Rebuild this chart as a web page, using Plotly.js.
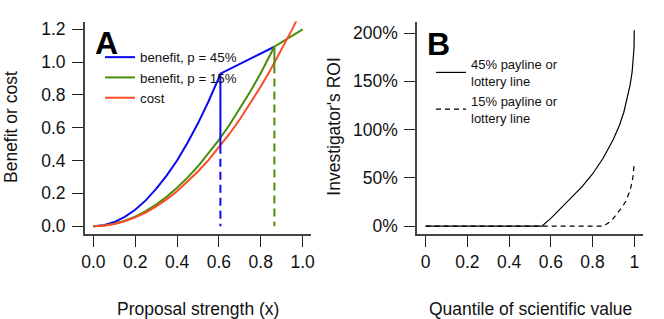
<!DOCTYPE html>
<html>
<head>
<meta charset="utf-8">
<script src="https://cdn.plot.ly/plotly-3.0.1.min.js"></script>
<style>html,body{margin:0;padding:0;background:#fff;}#chart{width:664px;height:319px;}</style>
</head>
<body>
<div id="chart"></div>
<script>
// ---------- Panel A data ----------
var xBlue = [0, 0.05, 0.10, 0.15, 0.20, 0.25, 0.30, 0.35, 0.40, 0.45, 0.50, 0.55, 0.60, 0.607, 0.865];
var yBlue = [0, 0.006, 0.025, 0.057, 0.100, 0.157, 0.227, 0.308, 0.400, 0.508, 0.627, 0.760, 0.905, 0.930, 1.094];
var xGreen = [0, 0.05, 0.10, 0.15, 0.20, 0.25, 0.30, 0.35, 0.40, 0.45, 0.50, 0.55, 0.60, 0.65, 0.70, 0.75, 0.80, 0.865, 1.0];
var yGreen = [0, 0.004, 0.015, 0.033, 0.058, 0.091, 0.131, 0.179, 0.234, 0.296, 0.365, 0.442, 0.526, 0.617, 0.715, 0.821, 0.934, 1.094, 1.20];
var xCost = [0, 0.05, 0.10, 0.15, 0.20, 0.25, 0.30, 0.35, 0.40, 0.45, 0.50, 0.55, 0.60, 0.65, 0.70, 0.75, 0.80, 0.85, 0.90, 0.95, 1.00];
var yCost = [0, 0.003, 0.013, 0.030, 0.053, 0.083, 0.120, 0.163, 0.213, 0.270, 0.333, 0.403, 0.480, 0.562, 0.652, 0.748, 0.851, 0.961, 1.077, 1.200, 1.330];
var blueCutX = 0.607, blueTop = 0.930, blueCostLevel = 0.49;
var greenCutX = 0.865, greenTop = 1.094, greenCostLevel = 0.98;
var labelsA = ["benefit, p = 45%", "benefit, p = 15%", "cost"];
var ticksAx = [0, 0.2, 0.4, 0.6, 0.8, 1.0];
var ticksAy = [0, 0.2, 0.4, 0.6, 0.8, 1.0, 1.2];

// ---------- Panel B data ----------
var q45 = [0, 0.557, 0.60, 0.65, 0.70, 0.75, 0.80, 0.85, 0.90, 0.93, 0.95, 0.97, 0.98, 0.99, 0.995, 0.999, 1.0];
var roi45 = [0, 0, 8, 19, 30, 41, 54, 70, 90, 105, 118, 136, 146, 160, 170, 185, 203];
var q15 = [0, 0.853, 0.88, 0.90, 0.92, 0.94, 0.96, 0.97, 0.98, 0.99, 0.995, 1.0];
var roi15 = [0, 0, 4, 8, 14, 19, 26, 31, 37, 46, 53, 66];
var labelsB = ["45% payline or<br>lottery line", "15% payline or<br>lottery line"];
var ticksBx = [0, 0.2, 0.4, 0.6, 0.8, 1];
var ticksBy = [0, 50, 100, 150, 200];
var tickTextBy = ["0%", "50%", "100%", "150%", "200%"];

var BLUE = "#0a0af0", GREEN = "#4a8c0a", RED = "#ff4a28";
var FONT = "Liberation Sans, Arial, Helvetica, sans-serif";

var traces = [
  {x: xBlue, y: yBlue, mode: "lines", line: {color: BLUE, width: 2}, name: labelsA[0], xaxis: "x", yaxis: "y", legend: "legend"},
  {x: xGreen, y: yGreen, mode: "lines", line: {color: GREEN, width: 2}, name: labelsA[1], xaxis: "x", yaxis: "y", legend: "legend"},
  {x: xCost, y: yCost, mode: "lines", line: {color: RED, width: 2}, name: labelsA[2], xaxis: "x", yaxis: "y", legend: "legend"},
  {x: [blueCutX, blueCutX], y: [blueTop, blueCostLevel], mode: "lines", line: {color: BLUE, width: 2}, showlegend: false, xaxis: "x", yaxis: "y"},
  {x: [blueCutX, blueCutX], y: [blueCostLevel, 0], mode: "lines", line: {color: BLUE, width: 2, dash: "8px,5px"}, showlegend: false, xaxis: "x", yaxis: "y"},
  {x: [greenCutX, greenCutX], y: [greenTop, greenCostLevel], mode: "lines", line: {color: GREEN, width: 2}, showlegend: false, xaxis: "x", yaxis: "y"},
  {x: [greenCutX, greenCutX], y: [greenCostLevel, 0], mode: "lines", line: {color: GREEN, width: 2, dash: "8px,5px"}, showlegend: false, xaxis: "x", yaxis: "y"},
  {x: q45, y: roi45, mode: "lines", line: {color: "#000", width: 1.2}, name: labelsB[0], xaxis: "x2", yaxis: "y2", legend: "legend2"},
  {x: q15, y: roi15, mode: "lines", line: {color: "#000", width: 1.2, dash: "5px,4px"}, name: labelsB[1], xaxis: "x2", yaxis: "y2", legend: "legend2"}
];

function axis(extra) {
  var base = {
    showgrid: false, zeroline: false, showline: true, linecolor: "#444", linewidth: 2,
    ticks: "outside", ticklen: 11, tickwidth: 1, tickcolor: "#222",
    tickfont: {family: FONT, size: 17.5, color: "#111"}, tickmode: "array", fixedrange: true
  };
  for (var k in extra) base[k] = extra[k];
  return base;
}

var W = 664, H = 319;
function px(v) { return v / W; }
function py(v) { return 1 - v / H; }

var layout = {
  width: W, height: H, margin: {l: 0, r: 0, t: 0, b: 0},
  paper_bgcolor: "#fff", plot_bgcolor: "#fff",
  font: {family: FONT, color: "#111"},
  xaxis: axis({domain: [px(85), px(311)], range: [-0.04, 1.04], tickvals: ticksAx, tickformat: ".1f", anchor: "y", ticklabelstandoff: 3.5}),
  yaxis: axis({domain: [py(234), py(21.5)], range: [-0.048, 1.248], tickvals: ticksAy, tickformat: ".1f", anchor: "x", ticklabelstandoff: 3}),
  xaxis2: axis({domain: [px(417.3), px(642.6)], range: [-0.04, 1.04], tickvals: ticksBx, anchor: "y2", ticklabelstandoff: 3.5}),
  yaxis2: axis({domain: [py(234), py(21.5)], range: [-8.16, 212], tickvals: ticksBy, ticktext: tickTextBy, anchor: "x2", ticklabelstandoff: 3}),
  showlegend: true,
  legend: {x: px(100), y: py(42), xanchor: "left", yanchor: "top", bgcolor: "rgba(0,0,0,0)",
           font: {family: FONT, size: 13.3, color: "#111"}, tracegroupgap: 0},
  legend2: {x: px(431), y: py(49), xanchor: "left", yanchor: "top", bgcolor: "rgba(0,0,0,0)",
            font: {family: FONT, size: 13, color: "#111"}, tracegroupgap: 0},
  annotations: [
    {text: "<b>A</b>", xref: "paper", yref: "paper", x: px(106.5), y: py(43), xanchor: "center", yanchor: "middle", showarrow: false, font: {family: FONT, size: 32, color: "#000"}},
    {text: "<b>B</b>", xref: "paper", yref: "paper", x: px(438.5), y: py(43.5), xanchor: "center", yanchor: "middle", showarrow: false, font: {family: FONT, size: 32, color: "#000"}},
    {text: "Proposal strength (x)", xref: "paper", yref: "paper", x: px(198), y: py(309), xanchor: "center", yanchor: "middle", showarrow: false, font: {family: FONT, size: 17.5, color: "#111"}},
    {text: "Benefit or cost", xref: "paper", yref: "paper", x: px(11.5), y: py(127.5), xanchor: "center", yanchor: "middle", textangle: -90, showarrow: false, font: {family: FONT, size: 17.5, color: "#111"}},
    {text: "Quantile of scientific value", xref: "paper", yref: "paper", x: px(530), y: py(309), xanchor: "center", yanchor: "middle", showarrow: false, font: {family: FONT, size: 17.5, color: "#111"}},
    {text: "Investigator's ROI", xref: "paper", yref: "paper", x: px(333.7), y: py(126), xanchor: "center", yanchor: "middle", textangle: -90, showarrow: false, font: {family: FONT, size: 17.5, color: "#111"}}
  ]
};

Plotly.newPlot("chart", traces, layout, {staticPlot: true, displayModeBar: false});
</script>
</body>
</html>
